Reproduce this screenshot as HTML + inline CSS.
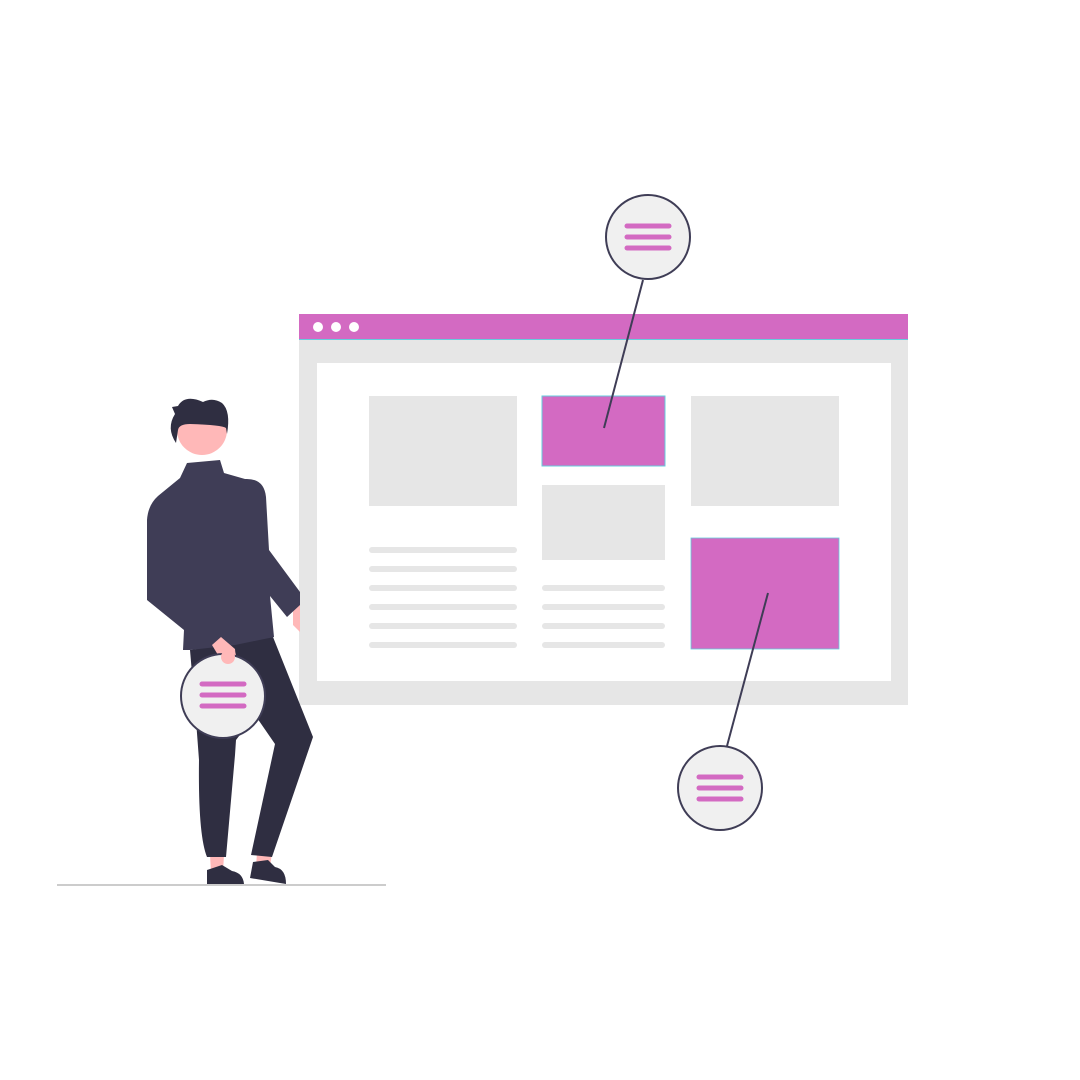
<!DOCTYPE html>
<html><head><style>html,body{margin:0;padding:0;background:#fff}svg{display:block}</style></head>
<body>
<svg width="1080" height="1080" viewBox="0 0 1080 1080" xmlns="http://www.w3.org/2000/svg">
<rect width="1080" height="1080" fill="#fff"/>
<!-- browser window -->
<rect x="299" y="340" width="609" height="365" fill="#e6e6e6"/>
<rect x="299" y="314" width="609" height="26" fill="#d36ac2"/>
<line x1="299" y1="339.5" x2="908" y2="339.5" stroke="#6cd" stroke-width="1"/>
<circle cx="318" cy="327" r="5" fill="#fff"/>
<circle cx="336" cy="327" r="5" fill="#fff"/>
<circle cx="354" cy="327" r="5" fill="#fff"/>
<rect x="317" y="363" width="574" height="318" fill="#fff"/>
<rect x="369" y="396" width="148" height="110" fill="#e6e6e6"/>
<rect x="542" y="396" width="123" height="70" fill="#d36ac2" stroke="#6cd" stroke-width="1"/>
<rect x="691" y="396" width="148" height="110" fill="#e6e6e6"/>
<rect x="542" y="485" width="123" height="75" fill="#e6e6e6"/>
<rect x="691" y="538" width="148" height="111" fill="#d36ac2" stroke="#6cd" stroke-width="0.8"/>
<g stroke="#e6e6e6" stroke-width="6" stroke-linecap="round">
<line x1="372" y1="550" x2="514" y2="550"/><line x1="372" y1="569" x2="514" y2="569"/>
<line x1="372" y1="588" x2="514" y2="588"/><line x1="372" y1="607" x2="514" y2="607"/>
<line x1="372" y1="626" x2="514" y2="626"/><line x1="372" y1="645" x2="514" y2="645"/>
<line x1="545" y1="588" x2="662" y2="588"/><line x1="545" y1="607" x2="662" y2="607"/>
<line x1="545" y1="626" x2="662" y2="626"/><line x1="545" y1="645" x2="662" y2="645"/>
</g>
<!-- connectors -->
<line x1="643" y1="280" x2="604" y2="428" stroke="#3f3d56" stroke-width="2"/>
<line x1="768" y1="593" x2="727" y2="746" stroke="#3f3d56" stroke-width="2"/>
<g id="c">
</g>
<g>
<circle cx="648" cy="237" r="42" fill="#f0f0f0" stroke="#3f3d56" stroke-width="2"/>
<g stroke="#d36ac2" stroke-width="5" stroke-linecap="round"><line x1="627" y1="226" x2="669" y2="226"/><line x1="627" y1="237" x2="669" y2="237"/><line x1="627" y1="248" x2="669" y2="248"/></g>
<circle cx="720" cy="788" r="42" fill="#f0f0f0" stroke="#3f3d56" stroke-width="2"/>
<g stroke="#d36ac2" stroke-width="5" stroke-linecap="round"><line x1="699" y1="777" x2="741" y2="777"/><line x1="699" y1="788" x2="741" y2="788"/><line x1="699" y1="799" x2="741" y2="799"/></g>
</g>
<!-- ground -->
<line x1="57" y1="885" x2="386" y2="885" stroke="#ccc" stroke-width="2"/>
<!-- person -->
<polygon points="210,855 224,855 223,872 211,872" fill="#ffb8b8"/>
<polygon points="257,852 272,852 270,868 256,868" fill="#ffb8b8"/>
<path d="M207,870 L222,865 L232,871 Q243,873 244,884 L207,884 Z" fill="#2f2e41"/>
<path d="M253,862 L268,860 L275,867 Q286,869 286,884 L250,878 Z" fill="#2f2e41"/>
<path d="M190,650 L273,637 L313,737 L272,857 L251,855 L275,744 L255,715 L236,740 L235,755 L226,857 L207,857 Q198,835 199,760 L196,720 Z" fill="#2f2e41"/>
<polygon points="293,605 300,598 300,632 293,625" fill="#ffb8b8"/>
<path d="M187,463 L220,460 L224,473 L245,479 Q264,478 266,497 L269,550 L300,592 L300,605 L287,617 L270,596 L274,637 L235,645 L190,650 L183,650 L184,630 L147,600 L147,520 Q148,505 158,496 L180,478 Z" fill="#3f3d56"/>
<polygon points="212,645 221,637 235,649 236,660 225,664 218,655" fill="#ffb8b8"/>
<circle cx="228" cy="656" r="8" fill="#ffb8b8"/>
<circle cx="202" cy="430" r="25" fill="#ffb8b8"/>
<path d="M176,443 Q166,428 175,414 L172,407 L178,406 Q185,394 203,402 Q213,397 222,403 Q231,411 227,434 L226,428 Q222,425 190,424 Q179,424 178,430 Z" fill="#2f2e41"/>
<circle cx="223" cy="696" r="42" fill="#f0f0f0" stroke="#3f3d56" stroke-width="2"/>
<g stroke="#d36ac2" stroke-width="5" stroke-linecap="round"><line x1="202" y1="684" x2="244" y2="684"/><line x1="202" y1="695" x2="244" y2="695"/><line x1="202" y1="706" x2="244" y2="706"/></g>
<circle cx="228" cy="657" r="7" fill="#ffb8b8"/>
</svg>
</body></html>
